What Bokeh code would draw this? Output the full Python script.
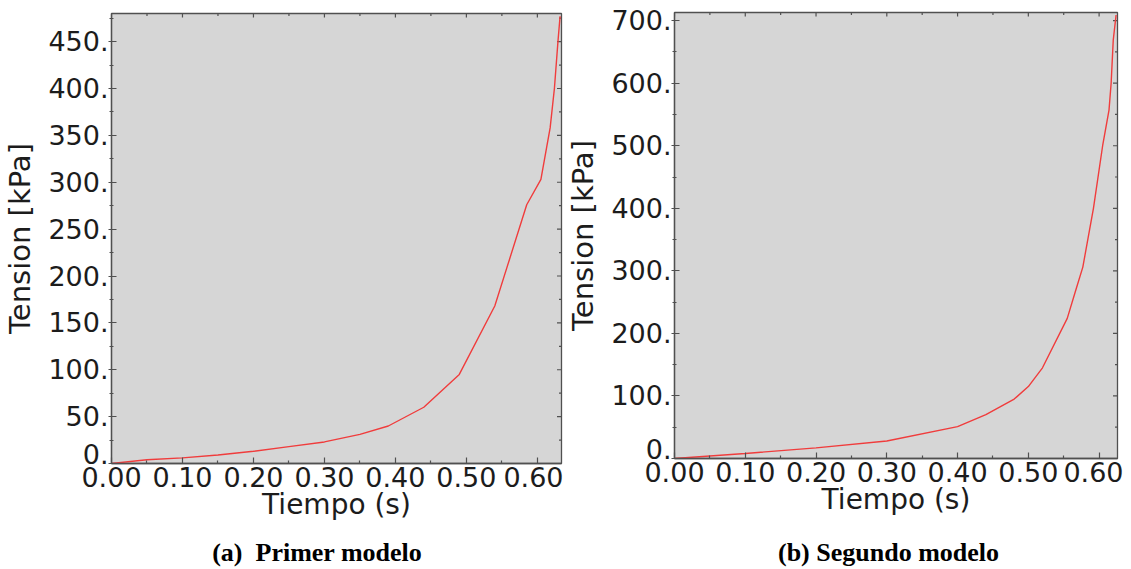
import math
from bokeh.plotting import figure
from bokeh.models import (Range1d, LinearAxis, FixedTicker, PrintfTickFormatter,
                          CustomJSTickFormatter, Div)
from bokeh.layouts import row, column
from bokeh.embed import file_html
from bokeh.resources import INLINE

# --- data ---
t_a = [0.0, 0.05, 0.10, 0.15, 0.20, 0.25, 0.30, 0.35, 0.39, 0.44, 0.49, 0.54, 0.585, 0.605, 0.613, 0.618, 0.624, 0.629, 0.632]
v_a = [0, 4, 6, 9, 13, 18, 23, 31, 40, 60, 95, 168, 276, 303, 337, 358, 400, 450, 477]

t_b = [0.0, 0.10, 0.20, 0.30, 0.40, 0.44, 0.48, 0.50, 0.52, 0.555, 0.567, 0.577, 0.592, 0.605, 0.614, 0.617, 0.620, 0.624]
v_b = [0, 8, 17, 28, 51, 70, 95, 115, 145, 224, 269, 306, 400, 500, 557, 600, 669, 709]

x_ticks = [0.0, 0.1, 0.2, 0.3, 0.4, 0.5, 0.6]
x_minor = [0.05, 0.15, 0.25, 0.35, 0.45, 0.55]
y_ticks_a = [0, 50, 100, 150, 200, 250, 300, 350, 400, 450]
y_minor_a = [25, 75, 125, 175, 225, 275, 325, 375, 425, 475]
y_ticks_b = [0, 100, 200, 300, 400, 500, 600, 700]
y_minor_b = [50, 150, 250, 350, 450, 550, 650]

captions = ["(a)  Primer modelo", "(b) Segundo modelo"]
x_label = "Tiempo (s)"
y_label = "Tension [kPa]"

FONT = "DejaVu Sans"
TXT = "#1c1c1c"
FRAME = "#505050"

# "0." is lifted onto the baseline (as in the reference) by a trailing empty line
Y_FMT = CustomJSTickFormatter(code="return tick == 0 ? '0.\\n' : tick.toFixed(0) + '.';")


def make_panel(t, v, xmax, ymax, yt, ym, w, h, bl, bt, br, bb):
    p = figure(width=w, height=h,
               x_range=Range1d(0, xmax), y_range=Range1d(0, ymax),
               output_backend="svg", toolbar_location=None,
               x_axis_location=None, y_axis_location=None,
               min_border_left=bl, min_border_top=bt, min_border_right=br,
               min_border_bottom=bb)
    p.background_fill_color = "#d6d6d6"
    p.border_fill_color = "white"
    p.outline_line_color = FRAME
    p.outline_line_width = 1.3
    p.grid.visible = False

    xb = LinearAxis(ticker=FixedTicker(ticks=x_ticks, minor_ticks=x_minor),
                    axis_label=x_label,
                    formatter=PrintfTickFormatter(format="%.2f"))
    yl = LinearAxis(ticker=FixedTicker(ticks=yt, minor_ticks=ym),
                    axis_label=y_label, formatter=Y_FMT)
    for ax in (xb, yl):
        ax.axis_line_color = FRAME
        ax.axis_line_width = 1.3
        ax.major_tick_line_color = FRAME
        ax.minor_tick_line_color = FRAME
        ax.major_tick_line_width = 1.2
        ax.minor_tick_line_width = 1.2
        ax.major_label_text_font = FONT
        ax.major_label_text_font_size = "27px"
        ax.major_label_text_color = TXT
        ax.axis_label_text_font = FONT
        ax.axis_label_text_font_style = "normal"
        ax.axis_label_text_color = TXT
    xb.axis_label_text_font_size = "28px"
    yl.axis_label_text_font_size = "29px"
    xb.major_tick_in = 6
    xb.major_tick_out = 0
    xb.minor_tick_in = 3
    xb.minor_tick_out = 0
    xb.major_label_standoff = 3
    xb.axis_label_standoff = -2
    yl.major_tick_in = 5
    yl.major_tick_out = 3
    yl.minor_tick_in = 2
    yl.minor_tick_out = 2
    yl.major_label_standoff = 0
    yl.axis_label_standoff = 8
    yl.major_label_text_line_height = 0.6
    p.add_layout(xb, "below")
    p.add_layout(yl, "left")

    # inward ticks on the top and right edges (markers clipped to the frame)
    p.scatter(x=x_ticks, y=[ymax] * len(x_ticks), marker="dash", size=8, angle=math.pi / 2,
              line_color=FRAME, line_width=1.2)
    p.scatter(x=x_minor, y=[ymax] * len(x_minor), marker="dash", size=5, angle=math.pi / 2,
              line_color=FRAME, line_width=1.2)
    p.scatter(x=[xmax] * len(yt), y=yt, marker="dash", size=9,
              line_color=FRAME, line_width=1.2)
    p.scatter(x=[xmax] * len(ym), y=ym, marker="dash", size=5,
              line_color=FRAME, line_width=1.2)

    p.line(t, v, line_color="#f03c3c", line_width=1.4)
    return p


def make_caption(text, w, ml, mr):
    return Div(text=text, width=w, height=34, margin=(0, mr, 0, ml),
               styles={"font-family": "Liberation Serif", "font-weight": "bold",
                       "font-size": "26px", "line-height": "30px", "text-align": "center",
                       "padding-top": "3px", "color": "black", "white-space": "pre"})


FIG_H = 535
pa = make_panel(t_a, v_a, 0.634, 480, y_ticks_a, y_minor_a,
                563, FIG_H, 111, 13, 2, FIG_H - 463)
pb = make_panel(t_b, v_b, 0.626, 713, y_ticks_b, y_minor_b,
                560, FIG_H, 107, 12, 6, FIG_H - 458)

ca = make_caption(captions[0], 450, 92, 21)
cb = make_caption(captions[1], 447, 102, 11)

layout = row(column(pa, ca, spacing=0), column(pb, cb, spacing=0), spacing=0)
open("out.html", "w").write(file_html(layout, INLINE))
